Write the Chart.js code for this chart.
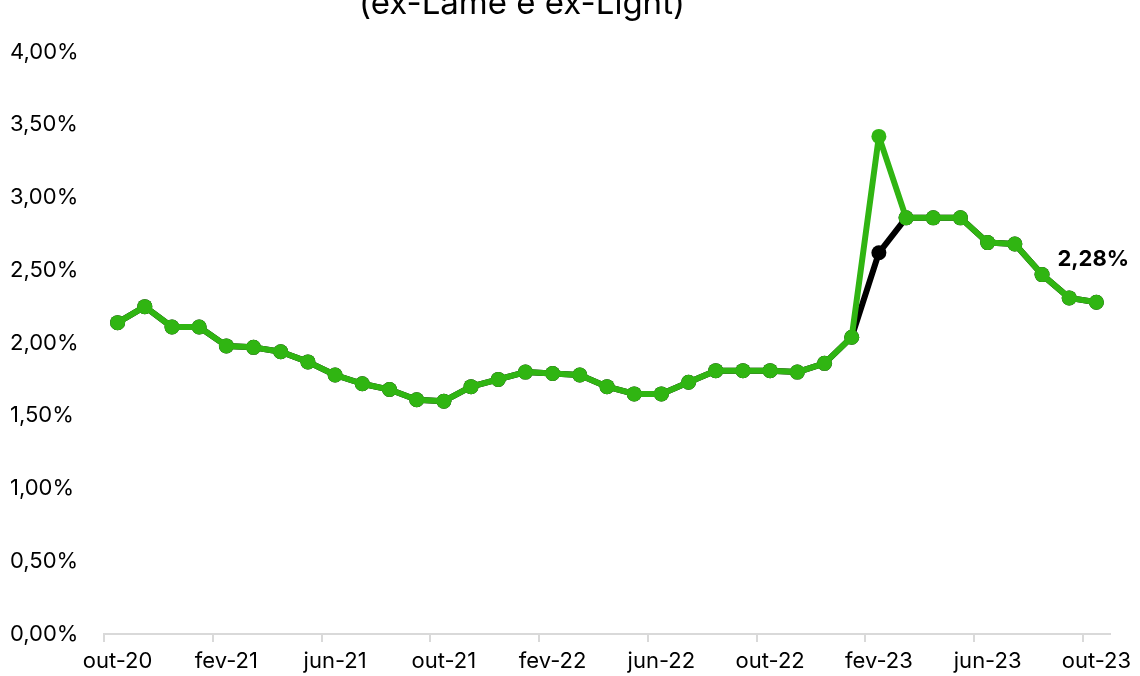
<!DOCTYPE html>
<html>
<head>
<meta charset="utf-8">
<script src="https://cdn.jsdelivr.net/npm/chart.js@4"></script>
<style>
  html, body { margin: 0; padding: 0; background: #fff; overflow: hidden; }
  #wrap { position: absolute; left: 0; top: 0; width: 1140px; height: 676px; }
</style>
</head>
<body>
<div id="wrap"><canvas id="myChart"></canvas></div>
<script>
const months = [
  'out-20', 'nov-20', 'dez-20', 'jan-21', 'fev-21', 'mar-21', 'abr-21', 'mai-21', 'jun-21', 'jul-21', 'ago-21', 'set-21',
  'out-21', 'nov-21', 'dez-21', 'jan-22', 'fev-22', 'mar-22', 'abr-22', 'mai-22', 'jun-22', 'jul-22', 'ago-22', 'set-22',
  'out-22', 'nov-22', 'dez-22', 'jan-23', 'fev-23', 'mar-23', 'abr-23', 'mai-23', 'jun-23', 'jul-23', 'ago-23', 'set-23',
  'out-23'
];

// green series
const seriesGreen = [
  2.14, 2.25, 2.11, 2.11, 1.98, 1.97, 1.94, 1.87, 1.78, 1.72, 1.68, 1.61,
  1.60, 1.70, 1.75, 1.80, 1.79, 1.78, 1.70, 1.65, 1.65, 1.73, 1.81, 1.81,
  1.81, 1.80, 1.86, 2.04, 3.42, 2.86, 2.86, 2.86, 2.69, 2.68, 2.47, 2.31,
  2.28
];

// black series
const seriesBlack = [
  2.14, 2.25, 2.11, 2.11, 1.98, 1.97, 1.94, 1.87, 1.78, 1.72, 1.68, 1.61,
  1.60, 1.70, 1.75, 1.80, 1.79, 1.78, 1.70, 1.65, 1.65, 1.73, 1.81, 1.81,
  1.81, 1.80, 1.86, 2.04, 2.62, 2.86, 2.86, 2.86, 2.69, 2.68, 2.47, 2.31,
  2.28
];

const titleText = '(ex-Lame e ex-Light)';
const lastLabel = '2,28%';

const green = '#30b512';
const axisGrey = '#d9d9d9';
const fontFamily = 'Inter, "Noto Sans", sans-serif';

function fmtPct(v) {
  return v.toFixed(2).replace('.', ',') + '%';
}

// title sits partly above the top edge, like the cropped original
const titlePlugin = {
  id: 'cutTitle',
  afterDraw(chart) {
    const ctx = chart.ctx;
    ctx.save();
    ctx.font = '33px ' + fontFamily;
    ctx.fillStyle = '#000';
    ctx.textAlign = 'center';
    ctx.textBaseline = 'alphabetic';
    ctx.fillText(titleText, 522, 14);
    ctx.restore();
  }
};

const lastLabelPlugin = {
  id: 'lastLabel',
  afterDatasetsDraw(chart) {
    const ctx = chart.ctx;
    const x = chart.scales.x.getPixelForValue(months.length - 1);
    const y = chart.scales.y.getPixelForValue(seriesGreen[seriesGreen.length - 1]);
    ctx.save();
    ctx.font = 'bold 22px ' + fontFamily;
    ctx.fillStyle = '#000';
    ctx.textAlign = 'left';
    ctx.textBaseline = 'middle';
    ctx.fillText(lastLabel, x - 39, y - 43);
    ctx.restore();
  }
};

const ctx = document.getElementById('myChart').getContext('2d');
new Chart(ctx, {
  type: 'line',
  data: {
    labels: months,
    datasets: [
      {
        label: 'verde',
        data: seriesGreen,
        borderColor: green,
        backgroundColor: green,
        borderWidth: 6,
        borderJoinStyle: 'round',
        borderCapStyle: 'round',
        pointRadius: 7.5,
        pointHoverRadius: 7.5,
        pointBorderWidth: 0,
        tension: 0
      },
      {
        label: 'preto',
        data: seriesBlack,
        borderColor: '#000',
        backgroundColor: '#000',
        borderWidth: 6,
        borderJoinStyle: 'round',
        borderCapStyle: 'round',
        pointRadius: 7.5,
        pointHoverRadius: 7.5,
        pointBorderWidth: 0,
        tension: 0
      }
    ]
  },
  options: {
    responsive: true,
    maintainAspectRatio: false,
    animation: false,
    layout: { padding: { left: 10, right: 30, top: 52, bottom: 0 } },
    plugins: {
      legend: { display: false },
      tooltip: { enabled: false },
      title: { display: false }
    },
    scales: {
      x: {
        offset: true,
        afterFit: (scale) => { scale.height = 42; },
        grid: {
          offset: true,
          drawOnChartArea: false,
          drawTicks: true,
          tickLength: 8,
          color: (c) => (c.index % 4 === 0 && c.index < months.length) ? axisGrey : 'rgba(0,0,0,0)',
          lineWidth: 2
        },
        border: { display: true, color: axisGrey, width: 2 },
        ticks: {
          autoSkip: false,
          maxRotation: 0,
          padding: 6,
          color: '#000',
          font: { family: fontFamily, size: 22 },
          callback: (v, i) => (i % 4 === 0 ? months[i] : '')
        }
      },
      y: {
        min: 0,
        max: 4,
        afterFit: (scale) => { scale.width = 94; },
        grid: { display: false, drawTicks: false },
        border: { display: false },
        ticks: {
          stepSize: 0.5,
          padding: 0,
          crossAlign: 'far',
          color: '#000',
          font: { family: fontFamily, size: 22 },
          callback: (v) => fmtPct(v)
        }
      }
    }
  },
  plugins: [lastLabelPlugin, titlePlugin]
});
</script>
</body>
</html>
